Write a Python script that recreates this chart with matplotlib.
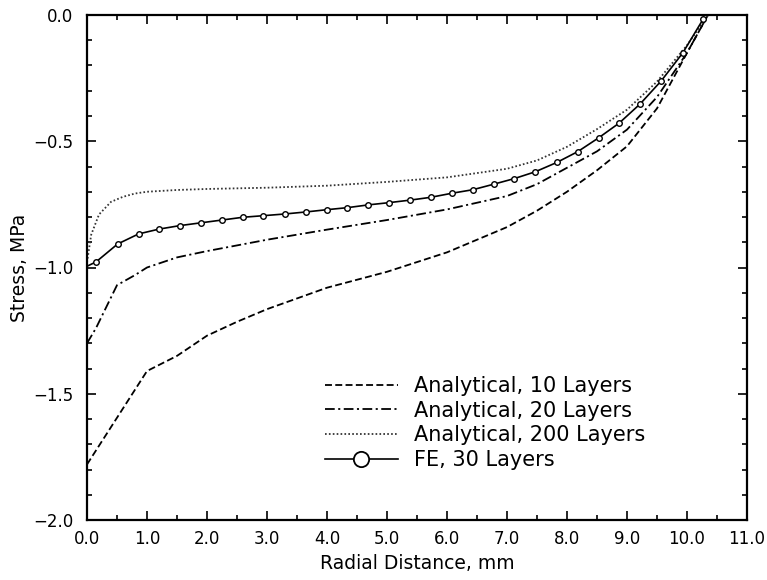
import matplotlib
matplotlib.use("Agg")
import matplotlib.pyplot as plt
from matplotlib.lines import Line2D
from matplotlib.ticker import MultipleLocator, FuncFormatter

plt.rcParams['font.family'] = ['DejaVu Sans']
plt.rcParams['lines.scale_dashes'] = False

# ---- data ----
x_10 = [0.0, 1.0, 1.5, 2.0, 2.5, 3.0, 4.0, 5.0, 6.0, 7.0, 7.5, 8.0, 8.5, 9.0, 9.5, 10.0, 10.35]
y_10 = [-1.78, -1.41, -1.35, -1.27, -1.215, -1.165, -1.08, -1.017, -0.94, -0.84, -0.775, -0.70, -0.615, -0.52, -0.37, -0.15, 0.0]

x_20 = [0.0, 0.15, 0.5, 0.8, 1.0, 1.5, 2.0, 3.0, 4.0, 5.0, 6.0, 7.0, 7.5, 8.0, 8.5, 9.0, 9.5, 10.0, 10.35]
y_20 = [-1.30, -1.24, -1.07, -1.03, -1.00, -0.96, -0.935, -0.89, -0.85, -0.812, -0.77, -0.717, -0.67, -0.605, -0.54, -0.454, -0.325, -0.15, 0.0]

x_200 = [0.0, 0.07, 0.2, 0.4, 0.6, 0.8, 1.0, 1.5, 2.0, 3.0, 4.0, 5.0, 6.0, 7.0, 7.5, 8.0, 8.5, 9.0, 9.5, 10.0, 10.35]
y_200 = [-0.98, -0.87, -0.79, -0.74, -0.72, -0.707, -0.700, -0.693, -0.689, -0.684, -0.676, -0.661, -0.643, -0.609, -0.576, -0.522, -0.452, -0.375, -0.264, -0.12, 0.0]

x_fe = [0.0, 0.15, 0.51, 0.86, 1.20, 1.55, 1.90, 2.25, 2.60, 2.93, 3.30, 3.65, 4.00,
        4.34, 4.69, 5.04, 5.39, 5.73, 6.08, 6.43, 6.78, 7.12, 7.47, 7.83,
        8.18, 8.53, 8.87, 9.22, 9.57, 9.93, 10.27]
y_fe = [-0.995, -0.978, -0.907, -0.867, -0.848, -0.834, -0.823, -0.812, -0.801, -0.795, -0.788, -0.780, -0.771,
        -0.763, -0.752, -0.743, -0.733, -0.722, -0.706, -0.692, -0.670, -0.648, -0.621, -0.584,
        -0.541, -0.486, -0.428, -0.352, -0.261, -0.150, -0.016]

labels = ["Analytical, 10 Layers", "Analytical, 20 Layers", "Analytical, 200 Layers", "FE, 30 Layers"]
x_ticks = [0.0, 1.0, 2.0, 3.0, 4.0, 5.0, 6.0, 7.0, 8.0, 9.0, 10.0, 11.0]
y_ticks = [-2.0, -1.5, -1.0, -0.5, 0.0]


def fmt(v, pos):
    s = "%.1f" % v
    return s.replace("-", "\u2212")


# ---- figure ----
fig = plt.figure(figsize=(7.67, 5.80), dpi=100)
ax = fig.add_axes([87/767, 1-520/580, 660/767, 505/580])

lw = 1.3
l1, = ax.plot(x_10, y_10, color='black', lw=lw, dashes=(5, 2.4))
l2, = ax.plot(x_20, y_20, color='black', lw=lw, dashes=(7, 2.5, 1.5, 2.5))
l3, = ax.plot(x_200, y_200, color='#333333', lw=lw, dashes=(1.2, 1.6))
l4, = ax.plot(x_fe, y_fe, color='black', lw=1.2, marker='o', markersize=4,
              markerfacecolor='white', markeredgecolor='black', markeredgewidth=1.0,
              markevery=list(range(1, len(x_fe))))

ax.set_xlim(0, 11)
ax.set_ylim(-2.0, 0.0)
ax.set_xticks(x_ticks)
ax.set_yticks(y_ticks)
ax.xaxis.set_minor_locator(MultipleLocator(0.5))
ax.yaxis.set_minor_locator(MultipleLocator(0.1))
ax.xaxis.set_major_formatter(FuncFormatter(fmt))
ax.yaxis.set_major_formatter(FuncFormatter(fmt))

ax.tick_params(which='both', direction='in', top=True, right=True, width=1.2, colors='black')
ax.tick_params(which='major', length=6.5)
ax.tick_params(which='minor', length=3.5)
ax.tick_params(axis='y', which='major', pad=10, labelsize=12)
ax.tick_params(axis='x', which='major', pad=7, labelsize=12)
for s in ax.spines.values():
    s.set_linewidth(1.6)

ax.set_xlabel("Radial Distance, mm", fontsize=13.5)
ax.set_ylabel("Stress, MPa", fontsize=13.5)
ax.xaxis.set_label_coords(0.5, -0.067)
ax.yaxis.set_label_coords(-0.088, 0.5)

fe_handle = Line2D([], [], color='black', lw=1.2, marker='o', markersize=11,
                   markerfacecolor='white', markeredgecolor='black', markeredgewidth=1.3)
leg = ax.legend([l1, l2, l3, fe_handle], labels, loc='upper left',
                bbox_to_anchor=(0.36, 0.285), frameon=False, fontsize=15,
                handlelength=3.5, handletextpad=0.8, labelspacing=0.22,
                borderpad=0, borderaxespad=0)

fig.savefig("out.png", dpi=100)
